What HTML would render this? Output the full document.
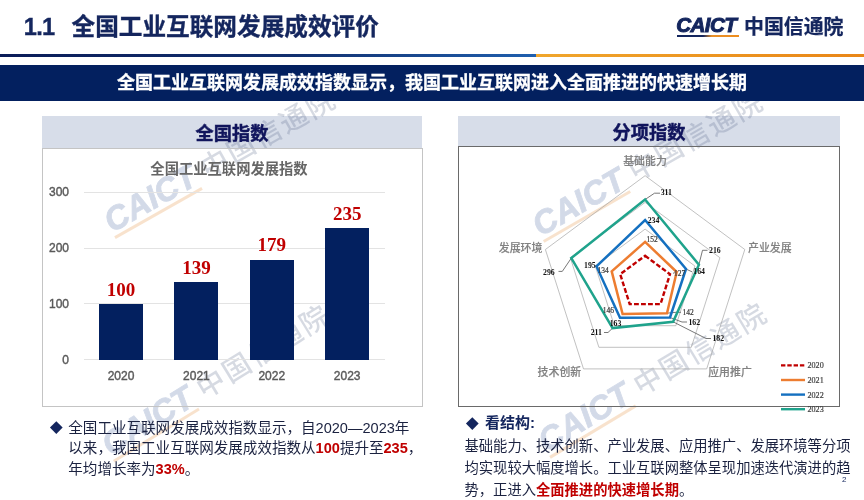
<!DOCTYPE html>
<html lang="zh"><head><meta charset="utf-8"><title>1.1 全国工业互联网发展成效评价</title>
<style>
html,body{margin:0;padding:0;background:#fff}
body{width:864px;height:500px;position:relative;overflow:hidden;font-family:"Liberation Sans","Noto Sans CJK SC",sans-serif;color:#111}
.abs{position:absolute;white-space:nowrap}
.title{left:25px;top:9px;font-size:23.65px;line-height:36px;font-weight:bold;color:#14265e;-webkit-text-stroke:0.35px #14265e}
.sep{left:0;top:53.5px;height:3px}
.banner{left:0;top:64.5px;width:864px;height:36px;background:#03205f;z-index:3}
.bannert{left:0;top:66.4px;width:864px;height:35.5px;line-height:35px;text-align:center;color:#fff;font-weight:bold;font-size:18px;z-index:4;-webkit-text-stroke:0.3px #fff}
.ph{background:#d7dde9;z-index:1}
.pht{text-align:center;font-weight:bold;font-size:18.2px;color:#10145c;z-index:4;-webkit-text-stroke:0.45px #10145c}
.pb{border:1px solid #c4c4c4;box-sizing:border-box;z-index:3}
.bar{background:#03205f;z-index:3}
.val{font-family:"Liberation Serif",serif;font-weight:bold;color:#c00000;font-size:19px;line-height:20px;text-align:center;z-index:4}
.xl,.yl{font-size:12px;line-height:16px;color:#595959;z-index:4;-webkit-text-stroke:0.4px #595959}
.xl{text-align:center} .yl{text-align:right}
.gl{height:1px;background:#e3e3e3;z-index:3}
.ct{font-size:14.3px;font-weight:bold;color:#666;text-align:center;z-index:4}
.wm{z-index:2;width:280px;height:40px;line-height:40px;text-align:center;color:#3a5a9a;opacity:.22}
.wc{font-weight:bold;font-style:italic;font-size:33px;border-bottom:3px solid #e08020;display:inline-block;line-height:30px;margin-right:9px;-webkit-text-stroke:0.8px #3a5a9a}
.wz{font-size:28px;font-weight:500;letter-spacing:2.2px;color:#4a5a80}
.txt{font-size:14.4px;line-height:21.6px;color:#1b2240;z-index:4;white-space:normal}
.red{color:#c00000;font-weight:bold}
svg text{font-family:"Liberation Serif",serif}
.db{font-size:7.8px;font-weight:bold;fill:#111}
.dr{font-size:7.5px;fill:#3a3a3a;stroke:#3a3a3a;stroke-width:0.2px}
.cat{font-family:"Liberation Sans","Noto Sans CJK SC",sans-serif;font-size:10.9px;fill:#828282;text-anchor:middle;font-weight:500;stroke:#828282;stroke-width:0.15px}
.lg{font-size:8.1px;fill:#404040;stroke:#404040;stroke-width:0.2px}
.dia{width:8.6px;height:8.6px;background:#14265e;transform:rotate(45deg);z-index:4}
</style></head><body>
<div class="abs title"><span style="display:inline-block;width:47.8px;margin-left:-1.3px;letter-spacing:-0.7px">1.1</span>全国工业互联网发展成效评价</div>
<div class="abs sep" style="width:535.5px;background:linear-gradient(90deg,#0a1c58,#12306f 55%,#1f5fae)"></div>
<div class="abs sep" style="left:535.5px;width:328.5px;background:linear-gradient(90deg,#f0a62c,#e98617)"></div>
<div class="abs" style="left:676.2px;top:12.6px;font-size:20.6px;line-height:24px;font-weight:bold;font-style:italic;color:#14265e;letter-spacing:-0.55px;-webkit-text-stroke:1px #14265e">CAICT</div>
<div class="abs" style="left:677px;top:34.8px;width:62px;height:2px;background:linear-gradient(90deg,#14265e 0,#14265e 42%,#e9902a 56%,#ee8d1d 100%)"></div>
<div class="abs" style="left:744px;top:12.6px;font-size:19.9px;line-height:28px;font-weight:bold;color:#14265e;-webkit-text-stroke:0.25px #14265e">中国信通院</div>
<div class="abs banner"></div>
<div class="abs bannert">全国工业互联网发展成效指数显示，我国工业互联网进入全面推进的快速增长期</div>

<div class="abs ph" style="left:42px;top:115.5px;width:380px;height:33px"></div>
<div class="abs pht" style="left:42px;top:115.5px;width:380px;height:33px;line-height:37.5px">全国指数</div>
<div class="abs pb" style="left:42px;top:148px;width:380.5px;height:258.5px"></div>
<div class="abs ct" style="left:129px;top:158.4px;width:200px;line-height:22px">全国工业互联网发展指数</div>
<div class="abs gl" style="left:84px;top:359.3px;width:300.5px"></div><div class="abs yl" style="left:29px;top:351.8px;width:40px">0</div><div class="abs gl" style="left:84px;top:303.4px;width:300.5px"></div><div class="abs yl" style="left:29px;top:295.9px;width:40px">100</div><div class="abs gl" style="left:84px;top:247.5px;width:300.5px"></div><div class="abs yl" style="left:29px;top:240.0px;width:40px">200</div><div class="abs gl" style="left:84px;top:191.6px;width:300.5px"></div><div class="abs yl" style="left:29px;top:184.1px;width:40px">300</div><div class="abs bar" style="left:99.0px;top:303.9px;width:44px;height:55.9px"></div><div class="abs val" style="left:81.0px;top:279.5px;width:80px">100</div><div class="abs xl" style="left:81.0px;top:367.5px;width:80px">2020</div><div class="abs bar" style="left:174.4px;top:282.1px;width:44px;height:77.7px"></div><div class="abs val" style="left:156.4px;top:257.7px;width:80px">139</div><div class="abs xl" style="left:156.4px;top:367.5px;width:80px">2021</div><div class="abs bar" style="left:249.8px;top:259.7px;width:44px;height:100.1px"></div><div class="abs val" style="left:231.8px;top:235.3px;width:80px">179</div><div class="abs xl" style="left:231.8px;top:367.5px;width:80px">2022</div><div class="abs bar" style="left:325.2px;top:228.4px;width:44px;height:131.4px"></div><div class="abs val" style="left:307.2px;top:204.0px;width:80px">235</div><div class="abs xl" style="left:307.2px;top:367.5px;width:80px">2023</div>

<div class="abs ph" style="left:458px;top:116px;width:382px;height:30px"></div>
<div class="abs pht" style="left:458px;top:116px;width:382px;height:30px;line-height:35px">分项指数</div>
<div class="abs pb" style="left:458px;top:145.8px;width:382px;height:261.2px;border:1.2px solid #6a6a6a"></div>
<svg class="abs" style="left:0;top:0;z-index:3" width="864" height="500" viewBox="0 0 864 500">
<g fill="none" stroke="#a6a6a6" stroke-width="0.7"><polygon points="645.1,229.1 694.9,266.0 675.9,325.7 614.3,325.7 595.3,266.0"/><polygon points="645.1,202.4 719.9,257.7 691.3,347.3 598.9,347.3 570.3,257.7"/><polygon points="645.1,175.7 744.8,249.5 706.7,368.9 583.5,368.9 545.4,249.5"/></g>
<g fill="none" stroke="#555" stroke-width="0.8"><polyline points="645.1,199.5 654.5,193.2 660.0,193.2"/><polyline points="698.9,264.7 702.5,250.3 707.5,250.3"/><polyline points="673.1,321.8 706.0,338.5 711.0,338.5"/><polyline points="612.6,328.1 608.0,332.5 604.0,332.5"/><polyline points="571.3,258.1 562.3,271.4 558.5,271.4"/><polyline points="667.0,313.2 676.0,312.3 681.0,312.3"/><polyline points="670.0,317.5 682.0,322.0 687.0,322.0"/><polyline points="676.7,272.0 673.0,273.3"/><polyline points="686.0,269.0 692.0,271.8"/></g>
<g fill="none" stroke-linejoin="miter"><polygon points="645.1,255.8 670.0,274.2 660.5,304.1 629.7,304.1 620.2,274.2" stroke="#c00000" stroke-width="2.4" stroke-dasharray="4.8 2.2"/><polygon points="645.1,241.9 676.7,272.0 667.0,313.2 622.6,314.0 611.7,271.4" stroke="#ed7d31" stroke-width="2.5" /><polygon points="645.1,220.0 686.0,269.0 670.0,317.5 620.0,317.7 596.5,266.4" stroke="#1470c0" stroke-width="2.5" /><polygon points="645.1,199.5 698.9,264.7 673.1,321.8 612.6,328.1 571.3,258.1" stroke="#1fa38c" stroke-width="2.5" /></g>
<text x="660.7" y="195.4" class="db">311</text><text x="647.7" y="223.2" class="db">234</text><text x="646.5" y="242.0" class="dr">152</text><text x="709.0" y="252.5" class="db">216</text><text x="693.3" y="274.0" class="db">164</text><text x="674.0" y="275.7" class="dr">127</text><text x="584.0" y="268.2" class="db">195</text><text x="597.5" y="272.7" class="dr">134</text><text x="543.0" y="274.6" class="db">296</text><text x="602.7" y="312.5" class="dr">146</text><text x="609.7" y="325.5" class="db">163</text><text x="590.7" y="334.7" class="db">211</text><text x="682.4" y="314.7" class="dr">142</text><text x="688.4" y="324.5" class="db">162</text><text x="712.4" y="340.7" class="db">182</text><text x="645.0" y="165.0" class="cat">基础能力</text><text x="769.8" y="251.6" class="cat">产业发展</text><text x="730.0" y="375.6" class="cat">应用推广</text><text x="559.4" y="375.6" class="cat">技术创新</text><text x="520.6" y="251.6" class="cat">发展环境</text><line x1="781" x2="805" y1="365.4" y2="365.4" stroke="#c00000" stroke-width="2.4" stroke-dasharray="4.4 1.9"/><text x="807.5" y="368.4" class="lg">2020</text><line x1="781" x2="805" y1="380.0" y2="380.0" stroke="#ed7d31" stroke-width="2.4" /><text x="807.5" y="383.0" class="lg">2021</text><line x1="781" x2="805" y1="394.6" y2="394.6" stroke="#1470c0" stroke-width="2.4" /><text x="807.5" y="397.6" class="lg">2022</text><line x1="781" x2="805" y1="409.2" y2="409.2" stroke="#1fa38c" stroke-width="2.4" /><text x="807.5" y="412.2" class="lg">2023</text>
</svg>
<div class="abs wm" style="left:80.5px;top:140.5px;transform:rotate(-29.5deg)"><span class="wc">CAICT</span><span class="wz">中国信通院</span></div><div class="abs wm" style="left:508.5px;top:143.5px;transform:rotate(-30deg)"><span class="wc">CAICT</span><span class="wz">中国信通院</span></div><div class="abs wm" style="left:77.0px;top:360.5px;transform:rotate(-31.5deg)"><span class="wc">CAICT</span><span class="wz">中国信通院</span></div><div class="abs wm" style="left:514.0px;top:357.5px;transform:rotate(-31deg)"><span class="wc">CAICT</span><span class="wz">中国信通院</span></div>
<div class="abs dia" style="left:51.5px;top:422.7px"></div>
<div class="abs txt" style="left:68.3px;top:417.6px;width:360px;font-size:14.56px;line-height:20.8px">全国工业互联网发展成效指数显示，自2020—2023年<br>以来，我国工业互联网发展成效指数从<span class="red">100</span>提升至<span class="red">235</span>，<br>年均增长率为<span class="red">33%</span>。</div>
<div class="abs dia" style="left:467.7px;top:418.7px"></div>
<div class="abs txt" style="left:485px;top:412px;font-weight:bold;color:#14265e;font-size:15px">看结构:</div>
<div class="abs txt" style="left:464.5px;top:436.4px;width:400px;font-size:14.3px">基础能力、技术创新、产业发展、应用推广、发展环境等分项<br>均实现较大幅度增长。工业互联网整体呈现加速迭代演进的趋<br>势，正进入<span class="red">全面推进的快速增长期</span>。</div>
<div class="abs" style="left:842px;top:475px;font-size:8px;line-height:10px;color:#14265e;z-index:4">2</div>
</body></html>
